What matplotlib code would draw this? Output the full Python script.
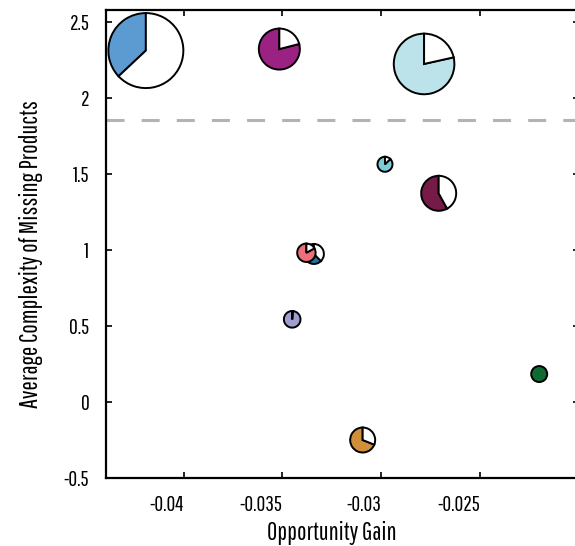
import numpy as np
import matplotlib
matplotlib.use("Agg")
import matplotlib.pyplot as plt
from matplotlib.patches import Wedge, Circle
from matplotlib.transforms import Affine2D, ScaledTranslation

# datos
gain = [-0.04191, -0.03515, -0.02782, -0.0298, -0.02708,
        -0.0334, -0.03378, -0.0345, -0.03093, -0.02199]
complexity = [2.312, 2.322, 2.224, 1.564, 1.373,
              0.974, 0.982, 0.544, -0.25, 0.184]
share = [0.37, 0.79, 0.785, 0.875, 0.58, 0.625, 0.83, 0.99, 0.69, 1.0]
size = [37.5, 20.5, 30.3, 7.5, 17.5, 10.0, 9.2, 8.3, 12.5, 8.0]
colors = ["#5b9bd1", "#9b2283", "#bce2ea", "#7ecbd8", "#761a47",
          "#1a76a6", "#ec6f7b", "#9e9fce", "#d08f3b", "#106b32"]
threshold = 1.855

plt.rcParams["font.family"] = ["Pathway Gothic One", "DejaVu Sans"]

fig = plt.figure(figsize=(5.75, 5.46), dpi=100)
ax = fig.add_axes([0.1843, 0.1245, 0.8235, 0.8572])
ax.set_xlim(-0.04393, -0.01995)
ax.set_ylim(-0.5, 2.579)

ax.axhline(threshold, color="#b3b3b3", linewidth=2.2, dashes=(5.9, 5.6), zorder=1)


def pie(x, y, frac, r, color, z):
    # r en pixeles, centro en coordenadas de datos
    tr = Affine2D().scale(r) + ScaledTranslation(x, y, ax.transData)
    if frac >= 1.0:
        ax.add_patch(Circle((0, 0), 1, facecolor=color, edgecolor="black",
                            linewidth=1.4, transform=tr, zorder=z))
        return
    ang = 90 + 360 * frac
    ax.add_patch(Wedge((0, 0), 1, 90, ang, facecolor=color, edgecolor="black",
                       linewidth=1.4, transform=tr, zorder=z))
    ax.add_patch(Wedge((0, 0), 1, ang, 450, facecolor="white", edgecolor="black",
                       linewidth=1.4, transform=tr, zorder=z))


for i in range(len(gain)):
    pie(gain[i], complexity[i], share[i], size[i], colors[i], 3 + i)

ax.set_xticks([-0.04, -0.035, -0.03, -0.025])
ax.set_xticklabels(["-0.04", "-0.035", "-0.03", "-0.025"], ha="right")
ax.set_yticks([-0.5, 0, 0.5, 1, 1.5, 2, 2.5])
ax.set_yticklabels(["-0.5", "0", "0.5", "1", "1.5", "2", "2.5"])
ax.tick_params(direction="in", length=4, width=1.2, top=True, right=True,
               labelsize=15.5, pad=12)
for s in ax.spines.values():
    s.set_linewidth(1.6)

ax.set_xlabel("Opportunity Gain", fontsize=18)
ax.set_ylabel("Average Complexity of Missing Products", fontsize=18)
ax.xaxis.set_label_coords(0.476, -0.092)
ax.yaxis.set_label_coords(-0.133, 0.479)

fig.savefig("out.png", dpi=100)
